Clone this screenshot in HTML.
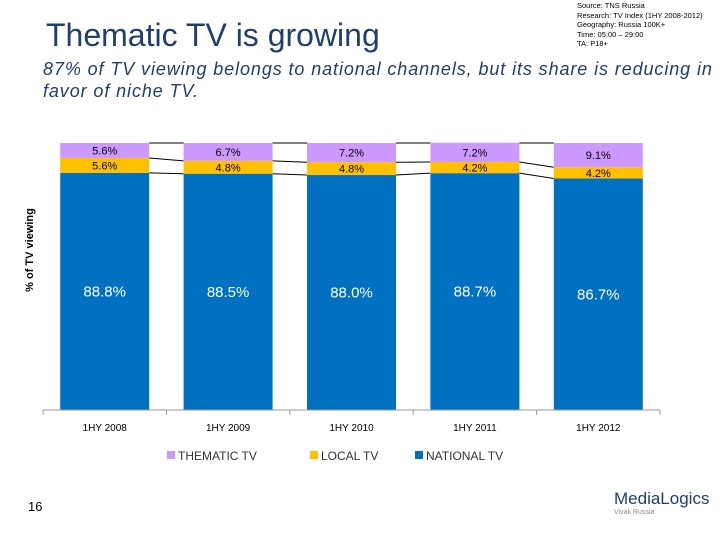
<!DOCTYPE html>
<html><head><meta charset="utf-8"><style>
body{margin:0;width:720px;height:540px;background:#fff;font-family:"Liberation Sans",sans-serif;overflow:hidden;position:relative}
.a{position:absolute;white-space:nowrap}
</style></head><body>
<div class="a" style="left:46px;top:17px;font-size:32px;color:#1f3f6f">Thematic TV is growing</div>
<div class="a" style="left:577px;top:1px;font-size:7.5px;line-height:9.5px;color:#000">Source: TNS Russia<br>Research: TV Index (1HY 2008-2012)<br>Geography: Russia 100K+<br>Time: 05:00 – 29:00<br>TA: P18+</div>
<div class="a" style="left:43px;top:58px;font-size:18px;letter-spacing:0.9px;line-height:22px;font-style:italic;color:#1f3f6f">87% of TV viewing belongs to national channels, but its share is reducing in<br>favor of niche TV.</div>
<svg class="a" style="left:0;top:0" width="720" height="540">
<g id="g"></g>
<text x="33" y="250" transform="rotate(-90 33 250)" text-anchor="middle" font-size="11" font-weight="bold" fill="#000">% of TV viewing</text>
</svg>
<div class="a" style="left:28px;top:499px;font-size:13px">16</div>
<div class="a" style="left:614px;top:489px;font-size:17px;color:#1f3f6f">MediaLogics</div>
<div class="a" style="left:614px;top:509px;font-size:7px;color:#888">Vivak Russia</div>
<script>
const categories=["1HY 2008","1HY 2009","1HY 2010","1HY 2011","1HY 2012"];
const national=[88.8,88.5,88.0,88.7,86.7];
const local=[5.6,4.8,4.8,4.2,4.2];
const thematic=[5.6,6.7,7.2,7.2,9.1];
const seriesNames=["THEMATIC TV","LOCAL TV","NATIONAL TV"];
const colors={nat:"#0070c0",loc:"#ffc000",the:"#cc99ff"};
const X0=43,X1=660,Y0=410,Y1=143,bw=89;
const cw=(X1-X0)/categories.length;
const xc=i=>X0+cw*(i+0.5);
const y=v=>Y0-(Y0-Y1)*v/100;
const g=document.getElementById('g');const NS="http://www.w3.org/2000/svg";
function mk(t,a){const e=document.createElementNS(NS,t);for(const k in a)e.setAttribute(k,a[k]);g.appendChild(e);return e;}
categories.forEach((c,i)=>{
 const l=xc(i)-bw/2,n=national[i],o=local[i],t=thematic[i];
 let r=mk('rect',{x:l,y:y(n),width:bw,height:Y0-y(n),fill:colors.nat});
 
 
 r=mk('rect',{x:l,y:y(n+o),width:bw,height:y(n)-y(n+o),fill:colors.loc});
 
 
 r=mk('rect',{x:l,y:y(n+o+t),width:bw,height:y(n+o)-y(n+o+t),fill:colors.the});
 
 
 const lab=(v,yy,fs,col)=>{const e=mk('text',{x:xc(i),y:yy,'text-anchor':'middle','font-size':fs,fill:col});e.textContent=v.toFixed(1)+'%';
 };
 lab(n,(y(n)+Y0)/2+5,15,"#fff");
 lab(o,(y(n)+y(n+o))/2+4,11,"#000");
 lab(t,(y(n+o)+y(n+o+t))/2+4,11,"#000");
 const tx=mk('text',{x:xc(i),y:431,'text-anchor':'middle','font-size':10,fill:'#000'});tx.textContent=c;
 
 
 if(i<categories.length-1){
  const r2=xc(i+1)-bw/2;
  [[n,national[i+1]],[n+o,national[i+1]+local[i+1]],[100,100]].forEach(([a,b])=>{
   const ln=mk('line',{x1:l+bw,y1:y(a),x2:r2,y2:y(b),stroke:'#000','stroke-width':1});
   
   
  });
 }
});
let ax=mk('line',{x1:X0,y1:Y0,x2:X1,y2:Y0,stroke:'#999'});


for(let i=0;i<=categories.length;i++){const t=mk('line',{x1:X0+cw*i,y1:Y0,x2:X0+cw*i,y2:Y0+5,stroke:'#999'});
 
 }
const lx=[167,310,415],lc=[colors.the,colors.loc,colors.nat];
seriesNames.forEach((s,k)=>{
 const r=mk('rect',{x:lx[k],y:451,width:8,height:8,fill:lc[k]});
 
 
 const t=mk('text',{x:lx[k]+11,y:460,'font-size':12,fill:'#333'});t.textContent=s;
 
 
});
</script>
</body></html>
